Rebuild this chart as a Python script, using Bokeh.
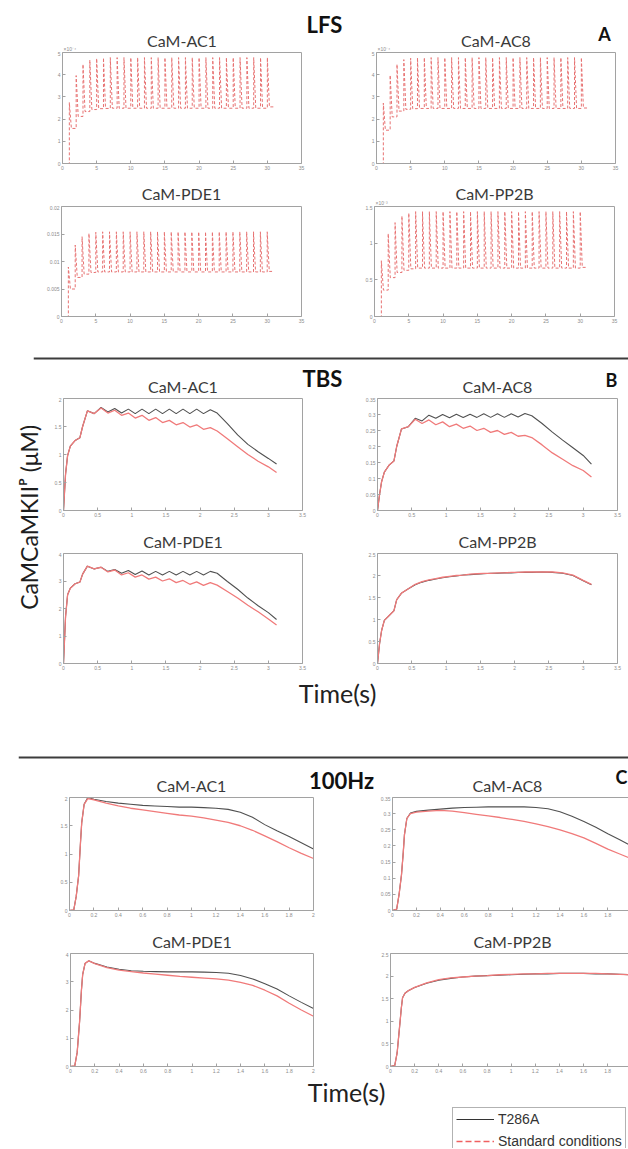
from math import pi
from bokeh.plotting import figure
from bokeh.models import (Range1d, FixedTicker, LinearAxis, Label, Legend, LegendItem,
                          CustomJSTickFormatter, Spacer, Span)
from bokeh.layouts import row, column
from bokeh.embed import file_html
from bokeh.resources import INLINE

# ======================= DATA =======================
protocols = ["LFS", "TBS", "100Hz"]
panel_letters = ["A", "B", "C"]
panel_titles = ["CaM-AC1", "CaM-AC8", "CaM-PDE1", "CaM-PP2B"]
series_names = ["T286A", "Standard conditions"]
y_label = "CaMCaMKIIᴾ (μM)"
x_label = "Time(s)"
exponents = ["×10⁻⁴", "×10⁻³"]

# --- LFS (1 Hz): stimulus times, peak after each pulse, value just before next pulse
lfs_pulse_t = [1.0, 2.0, 3.0, 4.0, 5.0, 6.0, 7.0, 8.0, 9.0, 10.0, 11.0, 12.0, 13.0, 14.0, 15.0,
               16.0, 17.0, 18.0, 19.0, 20.0, 21.0, 22.0, 23.0, 24.0, 25.0, 26.0, 27.0, 28.0, 29.0, 30.0]
lfs_end_t = 31.0
lfs_ac1_peak_e4 = [2.75, 3.96, 4.47, 4.66, 4.73, 4.76, 4.77, 4.77, 4.77, 4.77, 4.77, 4.77, 4.77, 4.77, 4.77,
                   4.77, 4.77, 4.77, 4.77, 4.77, 4.77, 4.77, 4.77, 4.77, 4.77, 4.77, 4.77, 4.77, 4.77, 4.77]
lfs_ac1_trough_e4 = [1.58, 2.12, 2.34, 2.43, 2.47, 2.48, 2.49, 2.49, 2.49, 2.49, 2.49, 2.49, 2.49, 2.49, 2.49,
                     2.49, 2.49, 2.49, 2.49, 2.49, 2.49, 2.49, 2.49, 2.49, 2.49, 2.49, 2.49, 2.49, 2.49, 2.55]
lfs_ac8_peak_e4 = [2.72, 3.98, 4.47, 4.68, 4.74, 4.76, 4.77, 4.77, 4.77, 4.77, 4.77, 4.77, 4.77, 4.77, 4.77,
                   4.77, 4.77, 4.77, 4.77, 4.77, 4.77, 4.77, 4.77, 4.77, 4.77, 4.77, 4.77, 4.77, 4.77, 4.77]
lfs_ac8_trough_e4 = [1.50, 2.10, 2.36, 2.44, 2.47, 2.48, 2.48, 2.48, 2.48, 2.48, 2.48, 2.48, 2.48, 2.48, 2.48,
                     2.48, 2.48, 2.48, 2.48, 2.48, 2.48, 2.48, 2.48, 2.48, 2.48, 2.48, 2.48, 2.48, 2.48, 2.50]
lfs_pde1_peak = [0.0090, 0.0130, 0.0145, 0.0151, 0.0153, 0.0154, 0.0154, 0.0154, 0.0154, 0.0154,
                 0.0154, 0.0154, 0.0154, 0.0154, 0.0154, 0.0154, 0.0154, 0.0154, 0.0154, 0.0154,
                 0.0154, 0.0154, 0.0154, 0.0154, 0.0154, 0.0154, 0.0154, 0.0154, 0.0154, 0.0154]
lfs_pde1_trough = [0.0050, 0.0071, 0.0077, 0.0080, 0.0081, 0.0081, 0.0081, 0.0081, 0.0081, 0.0081,
                   0.0081, 0.0081, 0.0081, 0.0081, 0.0081, 0.0081, 0.0081, 0.0081, 0.0081, 0.0081,
                   0.0081, 0.0081, 0.0081, 0.0081, 0.0081, 0.0081, 0.0081, 0.0081, 0.0081, 0.0082]
lfs_pp2b_peak_e3 = [0.76, 1.13, 1.28, 1.37, 1.41, 1.43, 1.43, 1.43, 1.43, 1.43, 1.43, 1.43, 1.43, 1.43, 1.43,
                    1.43, 1.43, 1.43, 1.43, 1.43, 1.43, 1.43, 1.43, 1.43, 1.43, 1.43, 1.43, 1.43, 1.43, 1.43]
lfs_pp2b_trough_e3 = [0.36, 0.53, 0.60, 0.63, 0.65, 0.66, 0.66, 0.66, 0.66, 0.66, 0.66, 0.66, 0.66, 0.66, 0.66,
                      0.66, 0.66, 0.66, 0.66, 0.66, 0.66, 0.66, 0.66, 0.66, 0.66, 0.66, 0.66, 0.66, 0.66, 0.67]
lfs_decay_s = 0.3   # time a pulse takes to fall back to its trough

# --- TBS
tbs_t = [0.00, 0.03, 0.06, 0.10, 0.17, 0.24, 0.28, 0.35, 0.45, 0.55, 0.65, 0.75, 0.85, 0.95, 1.05, 1.15, 1.25,
         1.35, 1.45, 1.55, 1.65, 1.75, 1.85, 1.95, 2.05, 2.15, 2.25, 2.40, 2.55, 2.70, 2.85, 3.00, 3.12]
tbs_ac1_std = [0.00, 0.65, 0.98, 1.15, 1.25, 1.30, 1.50, 1.78, 1.73, 1.83, 1.74, 1.79, 1.70, 1.74, 1.65, 1.70, 1.61,
               1.66, 1.57, 1.61, 1.53, 1.57, 1.49, 1.53, 1.45, 1.48, 1.42, 1.28, 1.14, 1.00, 0.88, 0.78, 0.68]
tbs_ac1_t286a = [0.00, 0.65, 0.98, 1.15, 1.25, 1.30, 1.50, 1.78, 1.73, 1.84, 1.76, 1.82, 1.74, 1.81, 1.73, 1.81, 1.73,
                 1.81, 1.73, 1.81, 1.73, 1.81, 1.73, 1.81, 1.73, 1.80, 1.74, 1.55, 1.35, 1.18, 1.05, 0.93, 0.83]
tbs_ac8_std = [0.000, 0.050, 0.090, 0.120, 0.142, 0.155, 0.200, 0.255, 0.262, 0.285, 0.272, 0.283, 0.268, 0.277,
               0.262, 0.270, 0.257, 0.264, 0.250, 0.257, 0.244, 0.250, 0.238, 0.244, 0.232, 0.235, 0.228, 0.205,
               0.180, 0.160, 0.140, 0.125, 0.105]
tbs_ac8_t286a = [0.000, 0.050, 0.090, 0.120, 0.142, 0.155, 0.200, 0.255, 0.262, 0.288, 0.280, 0.298, 0.288, 0.300,
                 0.290, 0.301, 0.291, 0.301, 0.291, 0.302, 0.291, 0.302, 0.291, 0.302, 0.292, 0.303, 0.296, 0.272,
                 0.245, 0.220, 0.196, 0.172, 0.145]
tbs_pde1_std = [0.00, 1.70, 2.50, 2.74, 2.90, 2.96, 3.25, 3.54, 3.44, 3.50, 3.33, 3.40, 3.22, 3.30, 3.14, 3.22, 3.07,
                3.14, 3.00, 3.08, 2.94, 3.02, 2.88, 2.97, 2.84, 2.94, 2.85, 2.62, 2.38, 2.12, 1.88, 1.62, 1.40]
tbs_pde1_t286a = [0.00, 1.70, 2.50, 2.74, 2.90, 2.96, 3.25, 3.54, 3.44, 3.50, 3.35, 3.42, 3.28, 3.38, 3.24, 3.36, 3.22,
                  3.35, 3.22, 3.35, 3.22, 3.35, 3.22, 3.35, 3.22, 3.35, 3.28, 2.98, 2.70, 2.38, 2.10, 1.85, 1.60]
tbs_pp2b_std = [0.00, 0.45, 0.75, 0.98, 1.09, 1.20, 1.45, 1.60, 1.70, 1.80, 1.86, 1.90, 1.93, 1.96, 1.98, 2.00, 2.01,
                2.03, 2.04, 2.05, 2.05, 2.06, 2.06, 2.07, 2.07, 2.08, 2.08, 2.08, 2.08, 2.06, 2.01, 1.89, 1.80]
tbs_pp2b_t286a = [0.00, 0.45, 0.75, 0.98, 1.09, 1.20, 1.45, 1.60, 1.70, 1.79, 1.85, 1.89, 1.92, 1.95, 1.97, 1.99, 2.01,
                  2.02, 2.03, 2.04, 2.05, 2.05, 2.06, 2.06, 2.07, 2.07, 2.07, 2.08, 2.07, 2.05, 2.00, 1.88, 1.79]

# --- 100 Hz
hz_t = [0.000, 0.035, 0.055, 0.075, 0.090, 0.100, 0.120, 0.150, 0.200, 0.300, 0.400, 0.500, 0.600, 0.700,
        0.800, 0.900, 1.000, 1.100, 1.200, 1.300, 1.400, 1.500, 1.600, 1.700, 1.800, 1.900, 2.000]
hz_ac1_std = [0.00, 0.01, 0.25, 0.62, 1.20, 1.55, 1.88, 1.98, 1.96, 1.90, 1.85, 1.81, 1.78, 1.75,
              1.72, 1.69, 1.67, 1.64, 1.60, 1.56, 1.50, 1.42, 1.32, 1.22, 1.11, 1.01, 0.92]
hz_ac1_t286a = [0.00, 0.01, 0.25, 0.62, 1.20, 1.55, 1.88, 2.00, 1.97, 1.93, 1.90, 1.88, 1.86, 1.85,
                1.84, 1.83, 1.83, 1.82, 1.81, 1.79, 1.74, 1.65, 1.52, 1.41, 1.31, 1.20, 1.09]
hz_ac8_std = [0.000, 0.004, 0.050, 0.110, 0.180, 0.235, 0.285, 0.300, 0.305, 0.308, 0.310, 0.308, 0.303, 0.298,
              0.293, 0.288, 0.282, 0.276, 0.268, 0.260, 0.250, 0.238, 0.225, 0.208, 0.190, 0.175, 0.160]
hz_ac8_t286a = [0.000, 0.004, 0.050, 0.110, 0.180, 0.235, 0.285, 0.302, 0.307, 0.311, 0.314, 0.317, 0.319, 0.320,
                0.321, 0.321, 0.321, 0.321, 0.319, 0.315, 0.306, 0.292, 0.276, 0.258, 0.238, 0.219, 0.200]
hz_pde1_std = [0.00, 0.02, 0.50, 1.60, 2.70, 3.25, 3.65, 3.74, 3.64, 3.50, 3.41, 3.36, 3.31, 3.27,
               3.23, 3.19, 3.16, 3.13, 3.10, 3.06, 2.98, 2.87, 2.70, 2.50, 2.24, 2.00, 1.78]
hz_pde1_t286a = [0.00, 0.02, 0.50, 1.60, 2.70, 3.25, 3.65, 3.74, 3.65, 3.52, 3.44, 3.39, 3.37, 3.36,
                 3.35, 3.35, 3.35, 3.34, 3.33, 3.30, 3.22, 3.10, 2.93, 2.74, 2.50, 2.27, 2.05]
hz_pp2b_std = [0.00, 0.02, 0.30, 0.87, 1.30, 1.52, 1.62, 1.68, 1.75, 1.85, 1.92, 1.96, 1.98, 2.00,
               2.01, 2.03, 2.04, 2.05, 2.05, 2.06, 2.06, 2.06, 2.06, 2.06, 2.05, 2.04, 2.03]
hz_pp2b_t286a = [0.00, 0.02, 0.30, 0.87, 1.30, 1.52, 1.62, 1.68, 1.75, 1.84, 1.91, 1.95, 1.98, 2.00,
                 2.01, 2.02, 2.03, 2.04, 2.05, 2.05, 2.06, 2.06, 2.06, 2.05, 2.05, 2.04, 2.03]

# --- ticks
lfs_xticks = [0, 5, 10, 15, 20, 25, 30, 35]
lfs_ac_yticks = [0, 1, 2, 3, 4, 5]
lfs_pde1_yticks = [0, 0.005, 0.01, 0.015, 0.02]
lfs_pp2b_yticks = [0, 0.5, 1, 1.5]
tbs_xticks = [0, 0.5, 1, 1.5, 2, 2.5, 3, 3.5]
hz_xticks = [0, 0.2, 0.4, 0.6, 0.8, 1, 1.2, 1.4, 1.6, 1.8, 2]
ac1_yticks = [0, 0.5, 1, 1.5, 2]
ac8_yticks = [0, 0.05, 0.1, 0.15, 0.2, 0.25, 0.3, 0.35]
pde1_yticks = [0, 1, 2, 3, 4]
pp2b_yticks = [0, 0.5, 1, 1.5, 2, 2.5]

# ======================= STYLE / HELPERS =======================
TXT = "Lato"
TICKF = "Liberation Sans"
RED = "#f07a7a"
RED_LFS = "#e77272"
BLACK = "#505050"
AXC = "#a2a2a2"
FMT = "return String(Number(tick.toFixed(6)));"
NAN = float("nan")


def labelled_axis(p, loc, ticks):
    ax = LinearAxis(ticker=FixedTicker(ticks=ticks), formatter=CustomJSTickFormatter(code=FMT))
    ax.axis_line_color = AXC
    ax.major_tick_line_color = AXC
    ax.minor_tick_line_color = None
    ax.major_tick_in = 3
    ax.major_tick_out = 0
    ax.major_label_text_font = TICKF
    ax.major_label_text_color = "#8c8c8c"
    ax.major_label_text_font_size = "5px"
    ax.major_label_standoff = 2
    p.add_layout(ax, loc)


def rule_axis(p, loc):
    ax = LinearAxis(ticker=FixedTicker(ticks=[]))
    ax.axis_line_color = AXC
    ax.major_tick_line_color = None
    ax.minor_tick_line_color = None
    ax.major_tick_in = 0
    ax.major_tick_out = 0
    ax.major_label_standoff = 0
    p.add_layout(ax, loc)


def panel(x0, y0, W, H, bl, br, bb, xr, yr, xticks, yticks, right_box=True):
    p = figure(width=W, height=H, x_range=Range1d(*xr), y_range=Range1d(*yr),
               x_axis_location=None, y_axis_location=None,
               toolbar_location=None, output_backend="svg",
               min_border_left=bl, min_border_right=br, min_border_top=1, min_border_bottom=bb)
    p.grid.visible = False
    p.outline_line_color = None
    labelled_axis(p, "below", xticks)
    labelled_axis(p, "left", yticks)
    rule_axis(p, "above")
    if right_box:
        rule_axis(p, "right")
    fr = dict(left=x0 + bl, right=x0 + W - br, top=y0 + 1, bottom=y0 + H - bb)
    return p, fr


def blank(x0, y0, W, H):
    p = figure(width=W, height=H, x_range=Range1d(0, 1), y_range=Range1d(0, 1),
               x_axis_location=None, y_axis_location=None, toolbar_location=None,
               output_backend="svg", min_border=0)
    p.grid.visible = False
    p.outline_line_color = None
    fr = dict(left=x0, right=x0 + W, top=y0, bottom=y0 + H)
    return p, fr


def txt(p, fr, px, py, text, size, color="#333333", bold=False, align="center",
        baseline="middle", font=TXT, angle=0.0):
    p.add_layout(Label(x=px - fr["left"], y=fr["bottom"] - py, x_units="screen", y_units="screen",
                       text=text, text_font=font, text_font_size=f"{size}px",
                       text_font_style="bold" if bold else "normal", text_color=color,
                       text_align=align, text_baseline=baseline, angle=angle))


def title(strip, sfr, pfr, text, ty, cx=None):
    if cx is None:
        cx = (pfr["left"] + pfr["right"]) / 2
    txt(strip, sfr, cx, ty, text, 16, color="#3a3a3a")


def expo(strip, sfr, pfr, text):
    txt(strip, sfr, pfr["left"] + 1, pfr["top"] - 1, text, 5, color="#8c8c8c", align="left",
        baseline="bottom", font=TICKF)


def pulses_path(pulses, end, peaks, troughs, decay):
    xs, ys = [0.0, pulses[0]], [0.0, 0.0]
    nxt = pulses[1:] + [end]
    for t0, t1, pk, tr in zip(pulses, nxt, peaks, troughs):
        xs += [t0, t0 + decay, t1]
        ys += [pk, tr, tr]
    return xs, ys


def two_lines(p, t, blk, red):
    p.line(t, blk, line_color=BLACK, line_width=1.1)
    p.line(t, red, line_color=RED, line_width=1.3)


def separator(height, line_center_from_top, left):
    p, _ = blank(left, 0, 628 - left, height)
    p.add_layout(Span(location=height - line_center_from_top, location_units="screen",
                      dimension="width", line_color="#3c3c3c", line_width=2))
    return row(Spacer(width=left, height=height, margin=0), p)


# ======================= SECTION A : LFS =======================
SA1, fSA1 = blank(0, 0, 628, 51)
A1L, fA1L = panel(0, 51, 346, 127, 62, 45, 15, (0, 35), (0, 5), lfs_xticks, lfs_ac_yticks)
A1R, fA1R = panel(346, 51, 282, 127, 30, 13, 15, (0, 35), (0, 5), lfs_xticks, lfs_ac_yticks)
SA2, fSA2 = blank(0, 178, 628, 27)
A2L, fA2L = panel(0, 205, 346, 135, 61, 45, 24, (0, 35), (0, 0.02), lfs_xticks, lfs_pde1_yticks)
A2R, fA2R = panel(346, 205, 282, 135, 28, 14, 24, (0, 35), (0, 1.5), lfs_xticks, lfs_pp2b_yticks)

for p, pk, tr in ((A1L, lfs_ac1_peak_e4, lfs_ac1_trough_e4), (A1R, lfs_ac8_peak_e4, lfs_ac8_trough_e4),
                  (A2L, lfs_pde1_peak, lfs_pde1_trough), (A2R, lfs_pp2b_peak_e3, lfs_pp2b_trough_e3)):
    xs, ys = pulses_path(lfs_pulse_t, lfs_end_t, pk, tr, lfs_decay_s)
    p.line(xs, ys, line_color=RED_LFS, line_width=1.0, line_dash="3 2")

title(SA1, fSA1, fA1L, panel_titles[0], 40)
title(SA1, fSA1, fA1R, panel_titles[1], 40)
title(SA2, fSA2, fA2L, panel_titles[2], 193)
title(SA2, fSA2, fA2R, panel_titles[3], 193)
expo(SA1, fSA1, fA1L, exponents[0])
expo(SA1, fSA1, fA1R, exponents[0])
expo(SA2, fSA2, fA2R, exponents[1])
txt(SA1, fSA1, 324, 24, protocols[0], 22, color="#111111", bold=True)
txt(SA1, fSA1, 604, 33, panel_letters[0], 18, color="#111111", bold=True)

sep1 = separator(23, 18, 33)

# ======================= SECTION B : TBS =======================
SB1, fSB1 = blank(42, 363, 586, 34)
B1L, fB1L = panel(42, 397, 304, 133, 21, 44, 20, (0, 3.5), (0, 2), tbs_xticks, ac1_yticks)
B1R, fB1R = panel(346, 397, 282, 133, 31, 11, 20, (0, 3.5), (0, 0.35), tbs_xticks, ac8_yticks)
SB2, fSB2 = blank(42, 530, 586, 22)
B2L, fB2L = panel(42, 552, 304, 123, 21, 44, 12, (0, 3.5), (0, 4), tbs_xticks, pde1_yticks)
B2R, fB2R = panel(346, 552, 282, 123, 31, 11, 12, (0, 3.5), (0, 2.5), tbs_xticks, pp2b_yticks)

two_lines(B1L, tbs_t, tbs_ac1_t286a, tbs_ac1_std)
two_lines(B1R, tbs_t, tbs_ac8_t286a, tbs_ac8_std)
two_lines(B2L, tbs_t, tbs_pde1_t286a, tbs_pde1_std)
two_lines(B2R, tbs_t, tbs_pp2b_t286a, tbs_pp2b_std)

title(SB1, fSB1, fB1L, panel_titles[0], 386)
title(SB1, fSB1, fB1R, panel_titles[1], 386)
title(SB2, fSB2, fB2L, panel_titles[2], 541)
title(SB2, fSB2, fB2R, panel_titles[3], 541)
txt(SB1, fSB1, 322, 378, protocols[1], 22, color="#111111", bold=True)
txt(SB1, fSB1, 611, 379, panel_letters[1], 18, color="#111111", bold=True)

YL, fYL = blank(0, 363, 42, 347)
txt(YL, fYL, 28, 517, y_label, 23, color="#1e1e1e", angle=pi / 2)

T1, fT1 = blank(42, 675, 586, 35)
txt(T1, fT1, 337, 692, x_label, 25, color="#222222")

secB = row(YL, column(SB1, row(B1L, B1R), SB2, row(B2L, B2R), T1))

sep2 = separator(52, 47, 18)

# ======================= SECTION C : 100 Hz =======================
SC1, fSC1 = blank(0, 762, 628, 34)
C1L, fC1L = panel(0, 796, 377, 129, 69, 64, 15, (0, 2), (0, 2), hz_xticks, ac1_yticks)
C1R, fC1R = panel(377, 796, 251, 129, 13, 0, 15, (0, 1.973), (0, 0.35), hz_xticks, ac8_yticks,
                  right_box=False)
SC2, fSC2 = blank(0, 925, 628, 27)
C2L, fC2L = panel(0, 952, 377, 124, 70, 64, 10, (0, 2), (0, 4), hz_xticks, pde1_yticks)
C2R, fC2R = panel(377, 952, 251, 124, 13, 0, 10, (0, 1.973), (0, 2.5), hz_xticks, pp2b_yticks,
                  right_box=False)

two_lines(C1L, hz_t, hz_ac1_t286a, hz_ac1_std)
two_lines(C1R, hz_t, hz_ac8_t286a, hz_ac8_std)
two_lines(C2L, hz_t, hz_pde1_t286a, hz_pde1_std)
two_lines(C2R, hz_t, hz_pp2b_t286a, hz_pp2b_std)

title(SC1, fSC1, fC1L, panel_titles[0], 785)
title(SC1, fSC1, fC1R, panel_titles[1], 785, cx=507)
title(SC2, fSC2, fC2L, panel_titles[2], 941)
title(SC2, fSC2, fC2R, panel_titles[3], 941, cx=512)
txt(SC1, fSC1, 341, 780, protocols[2], 22, color="#111111", bold=True)
txt(SC1, fSC1, 627, 776, panel_letters[2], 18, color="#111111", bold=True, align="right")

T2, fT2 = blank(0, 1076, 628, 31)
txt(T2, fT2, 346, 1091, x_label, 25, color="#222222")

# ---- legend (key glyphs only: the renderers hold no drawable point)
LG, fLG = blank(452, 1107, 176, 41)
r_blk = LG.line([NAN], [NAN], line_color="#333333", line_width=1.2)
r_red = LG.line([NAN], [NAN], line_color="#f06060", line_width=1.4, line_dash="6 3")
legend = Legend(items=[LegendItem(label=series_names[0], renderers=[r_blk]),
                       LegendItem(label=series_names[1], renderers=[r_red])],
                location="top_left", margin=0, padding=3, spacing=6,
                glyph_width=38, glyph_height=16, label_height=16, label_standoff=4,
                label_text_font="Liberation Sans", label_text_font_size="14px",
                label_text_color="#333333", border_line_color="#666666", border_line_width=1,
                background_fill_color="white", background_fill_alpha=1.0)
LG.add_layout(legend, "center")
leg_row = row(Spacer(width=452, height=41, margin=0), LG)

page = column(SA1, row(A1L, A1R), SA2, row(A2L, A2R), sep1, secB, sep2,
              SC1, row(C1L, C1R), SC2, row(C2L, C2R), T2, leg_row)

open("out.html", "w").write(file_html(page, INLINE, "CaMCaMKII"))
